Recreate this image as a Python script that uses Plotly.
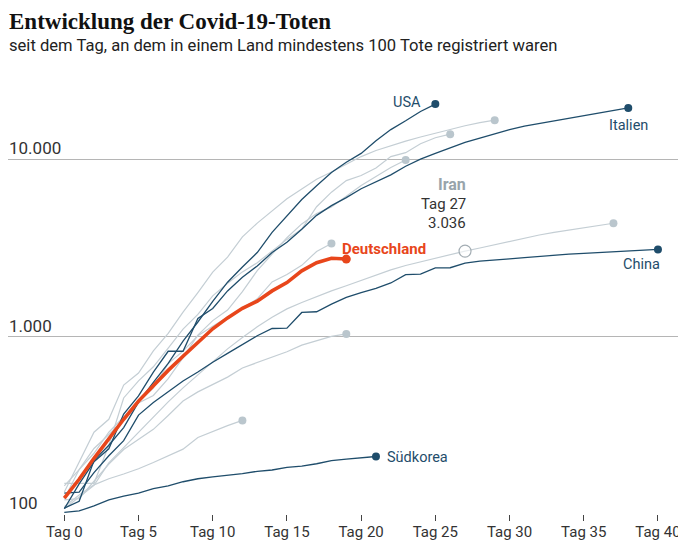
import math
import plotly.graph_objects as go

# ---------------- data ----------------
tick_days = [0, 5, 10, 15, 20, 25, 30, 35, 40]
tick_labels = ["Tag 0", "Tag 5", "Tag 10", "Tag 15", "Tag 20", "Tag 25", "Tag 30", "Tag 35", "Tag 40"]
grid_values = [100, 1000, 10000]
grid_labels = ["100", "1.000", "10.000"]

usa = [108, 118, 200, 244, 307, 427, 552, 706, 942, 1209, 1581, 2026, 2467, 2978, 3873,
       4757, 5926, 7087, 8407, 9619, 10783, 12722, 14695, 16478, 18586, 20463]
italien = [107, 148, 197, 233, 366, 463, 631, 827, 827, 1266, 1441, 1809, 2158, 2503, 2978,
           3405, 4032, 4825, 5476, 6077, 6820, 7503, 8165, 9134, 10023, 10779, 11591, 12428,
           13155, 13915, 14681, 15362, 15887, 16523, 17127, 17669, 18279, 18849, 19468]
china = [131, 133, 171, 213, 259, 361, 425, 490, 562, 632, 717, 804, 904, 1011, 1111, 1116,
         1368, 1381, 1524, 1666, 1772, 1870, 2006, 2236, 2250, 2441, 2445, 2595, 2665, 2717,
         2746, 2790, 2837, 2872, 2914, 2947, 2983, 3015, 3044, 3072, 3100]
suedkorea = [102, 104, 111, 120, 126, 131, 139, 144, 152, 158, 162, 165, 169, 174, 177, 183,
             186, 192, 200, 204, 208, 211]
deutschland = [123, 157, 206, 267, 342, 433, 533, 645, 775, 920, 1107, 1275, 1444, 1584, 1810,
               2016, 2349, 2607, 2767, 2736]
spanien = [133, 195, 289, 342, 533, 623, 830, 1043, 1375, 1772, 2311, 2808, 3647, 4365, 5138,
           5982, 6803, 7716, 8464, 9387, 10348, 11198, 11947, 12641, 13341, 14045, 14792,
           15447, 16081, 16606]
frankreich = [149, 149, 149, 244, 451, 563, 676, 862, 1102, 1333, 1698, 1997, 2317, 2611, 3030,
              3532, 4043, 5398, 6520, 7574, 8093, 8926, 10343, 10887, 12228, 13215, 13851]
grossbritannien = [144, 178, 234, 282, 336, 423, 466, 580, 761, 1021, 1231, 1411, 1793, 2357,
                   2926, 3611, 4320, 4943, 5385, 6171, 7111, 7993, 8974, 9892]
belgien = [122, 178, 220, 289, 353, 431, 513, 705, 828, 1011, 1143, 1283, 1447, 1632, 2035,
           2240, 2523, 3019, 3346]
iran = [107, 124, 145, 194, 237, 291, 354, 429, 514, 611, 724, 853, 988, 1135, 1284, 1433,
        1556, 1685, 1812, 1934, 2077, 2234, 2378, 2517, 2640, 2757, 2898, 3036, 3160, 3294,
        3452, 3603, 3739, 3872, 3993, 4110, 4232, 4357]
schweiz = [120, 122, 153, 191, 231, 264, 300, 359, 433, 488, 536, 591, 666, 715, 765, 821,
           895, 948, 1002, 1036]
oesterreich = [110, 128, 146, 158, 168, 180, 195, 212, 232, 270, 292, 315, 337]

iran_day = 27

# ---------------- styles ----------------
DARK = "#1f4d6b"
GRAY = "#c4ced4"
GRAY_DOT = "#bac6cd"
ORANGE = "#e8461b"
TEXT = "#333333"
GRID = "#b5b5b5"
FONT = "Roboto, Liberation Sans, sans-serif"

gray_series = [spanien, frankreich, grossbritannien, belgien, iran, schweiz, oesterreich]
dark_series = [usa, italien, china, suedkorea]

fig = go.Figure()


def add_line(vals, color, width, dot_color, dot_size):
    days = list(range(len(vals)))
    fig.add_trace(go.Scatter(x=days, y=vals, mode="lines",
                             line=dict(color=color, width=width),
                             hoverinfo="skip", showlegend=False))
    fig.add_trace(go.Scatter(x=[days[-1]], y=[vals[-1]], mode="markers",
                             marker=dict(color=dot_color, size=dot_size, line=dict(width=0)),
                             hoverinfo="skip", showlegend=False))


for s in gray_series:
    add_line(s, GRAY, 1.2, GRAY_DOT, 8)
for s in dark_series:
    add_line(s, DARK, 1.3, DARK, 8)
add_line(deutschland, ORANGE, 3.6, ORANGE, 9)

# Iran highlight marker
fig.add_trace(go.Scatter(x=[iran_day], y=[iran[iran_day]], mode="markers",
                         marker=dict(symbol="circle", size=12, color="rgba(255,255,255,0.6)",
                                     line=dict(color="#a3adb3", width=1.2)),
                         hoverinfo="skip", showlegend=False))

ly = math.log10(iran[iran_day])
px = 1 / 177.4
fig.add_shape(type="line", xref="x", yref="y", x0=iran_day, x1=iran_day,
              y0=ly + 6.5 * px, y1=ly + 19 * px, line=dict(color="#a3adb3", width=1.2))

ann = []
# y labels
for v, t in zip(grid_values, grid_labels):
    ann.append(dict(xref="paper", yref="y", x=0, y=math.log10(v), text=t, showarrow=False,
                    xanchor="left", yanchor="middle", yshift=11, xshift=-1,
                    font=dict(family=FONT, size=17, color=TEXT)))


def lab(vals, text, xanchor, xshift, yshift, color, size=14.5, bold=False):
    ann.append(dict(xref="x", yref="y", x=len(vals) - 1, y=math.log10(vals[-1]),
                    text=("<b>%s</b>" % text) if bold else text, showarrow=False,
                    xanchor=xanchor, yanchor="middle", xshift=xshift, yshift=yshift,
                    font=dict(family=FONT, size=size, color=color)))


lab(usa, "USA", "right", -12, 2, DARK)
lab(italien, "Italien", "center", 0, -18, DARK)
lab(china, "China", "right", 4, -15, DARK)
lab(suedkorea, "Südkorea", "left", 9, -1, DARK)
lab(deutschland, "Deutschland", "left", -6, 10, ORANGE, size=15, bold=True)

for text, dy, col, bold in [("Iran", 67, "#98a4ab", True), ("Tag %d" % iran_day, 47, TEXT, False),
                            ("{:,}".format(iran[iran_day]).replace(",", "."), 28, TEXT, False)]:
    ann.append(dict(xref="x", yref="y", x=iran_day, y=ly,
                    text=("<b>%s</b>" % text) if bold else text, showarrow=False,
                    xanchor="right", yanchor="middle", xshift=3, yshift=dy,
                    font=dict(family=FONT, size=16 if bold else 15, color=col)))

# title & subtitle (page is offset by the default 8px body margin)
PLOT_BOTTOM = 506
PLOT_H = 444
ann.append(dict(xref="paper", yref="paper", x=0, y=(PLOT_BOTTOM + 1) / PLOT_H,
                text="<b>Entwicklung der Covid-19-Toten</b>", showarrow=False,
                xanchor="left", yanchor="top", xshift=-1,
                font=dict(family="Liberation Serif, DejaVu Serif, serif", size=23, color="#111111")))
ann.append(dict(xref="paper", yref="paper", x=0, y=(PLOT_BOTTOM - 37) / PLOT_H,
                text="seit dem Tag, an dem in einem Land mindestens 100 Tote registriert waren",
                showarrow=False, xanchor="left", yanchor="middle", xshift=-1,
                font=dict(family=FONT, size=16.6, color="#222222")))

fig.update_layout(
    width=678, height=532,
    margin=dict(l=0, r=8, t=62, b=26, autoexpand=False),
    paper_bgcolor="white", plot_bgcolor="white",
    showlegend=False, hovermode=False,
    annotations=ann,
    xaxis=dict(range=[-3.794, 41.35], tickvals=tick_days, ticktext=tick_labels,
               showgrid=False, zeroline=False, showline=False,
               ticks="outside", ticklen=6, tickcolor="#444", tickwidth=1,
               ticklabelstandoff=-2,
               tickfont=dict(family=FONT, size=15, color=TEXT), fixedrange=True,
               automargin=False),
    yaxis=dict(type="log", range=[2, 4.503], tickvals=grid_values, showticklabels=False,
               showgrid=True, gridcolor=GRID, gridwidth=1.2, zeroline=False,
               showline=False, ticks="", fixedrange=True, automargin=False),
)

fig.write_html("out.html")
